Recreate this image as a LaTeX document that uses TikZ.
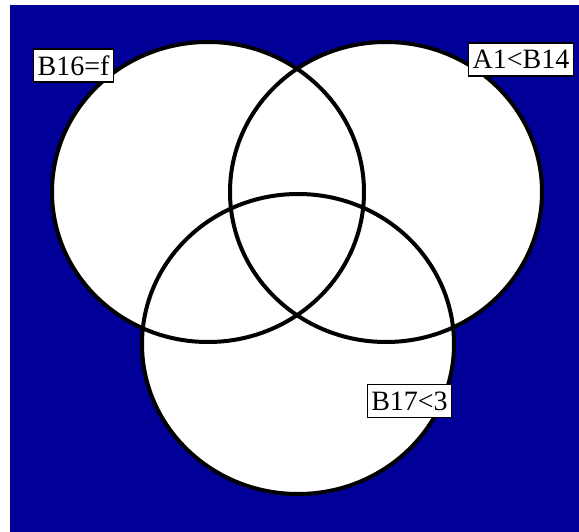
\documentclass[tikz,border=0pt]{standalone}
\usepackage{fontspec}
\setmainfont{Liberation Serif}
\definecolor{bgblue}{RGB}{0,0,153}
\tikzset{
  setfill/.style={fill=white},
  setline/.style={draw=black, line width=4pt},
  lbl/.style={draw=black, line width=1.5pt, fill=white, font=\fontsize{28}{28}\selectfont,
    inner xsep=4pt, inner ysep=0pt, minimum height=33pt}
}
\begin{document}
\begin{tikzpicture}[x=1pt,y=-1pt]
\useasboundingbox (0,0) rectangle (579,532);
\fill[bgblue] (10,5) rectangle (579,532);
\coordinate (cL) at (208,192);
\coordinate (cR) at (386,192);
\coordinate (cB) at (298,344);
\foreach \c in {cL,cR,cB}
  \fill[setfill] (\c) ellipse [x radius=156, y radius=150];
\foreach \c in {cL,cR,cB}
  \draw[setline] (\c) ellipse [x radius=156, y radius=150];
\node[lbl] (l1) at (73.5,65.5) {B16=f};
\node[lbl] (l2) at (521,59.5) {A1<B14};
\node[lbl] (l3) at (409.5,401) {B17<3};
\end{tikzpicture}
\end{document}
